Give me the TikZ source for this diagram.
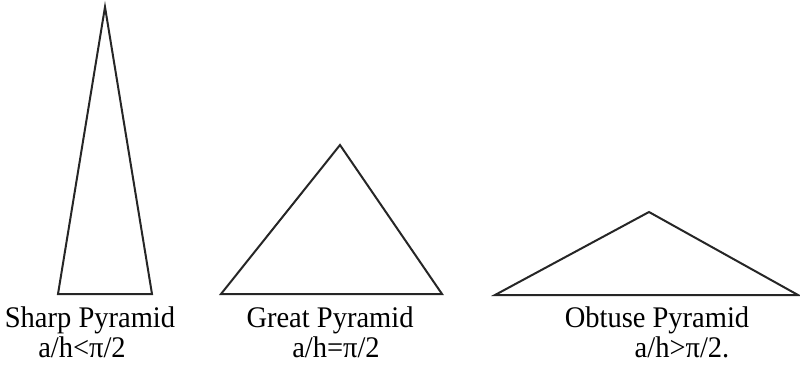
\documentclass[tikz,border=0pt]{standalone}
\usepackage{fontspec}
\setmainfont{Liberation Serif}
\begin{document}
\begin{tikzpicture}[x=1pt,y=-1pt,
  tri/.style={draw=black!85,line width=2pt,line join=miter},
  lbl/.style={font=\fontsize{28.5}{30}\selectfont,inner sep=0pt,anchor=base}]
\useasboundingbox (0,0) rectangle (800,364);
\coordinate (a1) at (105,7);
\coordinate (b1) at (58,294);
\coordinate (c1) at (152,294);
\draw[tri] (a1) -- (c1) -- (b1) -- cycle;
\coordinate (a2) at (340,145);
\coordinate (b2) at (221,294);
\coordinate (c2) at (442,294);
\draw[tri] (a2) -- (c2) -- (b2) -- cycle;
\coordinate (a3) at (649,212);
\coordinate (b3) at (495,295);
\coordinate (c3) at (798,295);
\draw[tri] (a3) -- (c3) -- (b3) -- cycle;
\node[lbl] (s1) at (90,327) {\scalebox{1}[1.05]{Sharp Pyramid}};
\node[lbl] (f1) at (82,357) {\scalebox{1}[1.05]{a/h<π/2}};
\node[lbl] (s2) at (330,327) {\scalebox{1}[1.05]{Great Pyramid}};
\node[lbl] (f2) at (336,357) {\scalebox{1}[1.05]{a/h=π/2}};
\node[lbl] (s3) at (657,327) {\scalebox{1}[1.05]{Obtuse Pyramid}};
\node[lbl] (f3) at (682,357) {\scalebox{1}[1.05]{a/h>π/2.}};
\end{tikzpicture}
\end{document}
